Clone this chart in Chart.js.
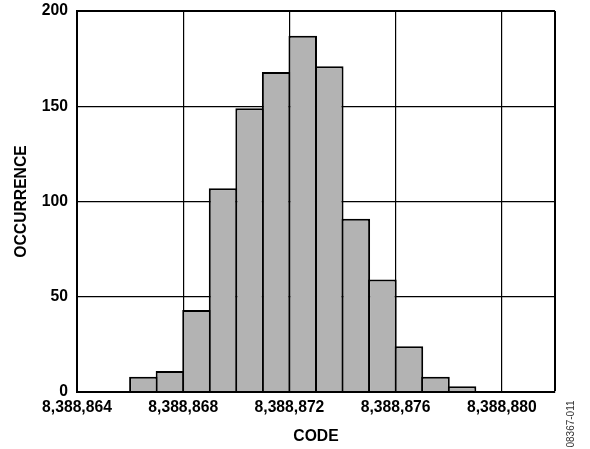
<!DOCTYPE html>
<html>
<head>
<meta charset="utf-8">
<title>Code histogram</title>
<script src="https://cdn.jsdelivr.net/npm/chart.js@4"></script>
<style>
  html, body { margin: 0; padding: 0; background: #fff; }
  #histogram { display: block; }
</style>
</head>
<body>
<canvas id="histogram" width="590" height="449"></canvas>
<script>
// Output codes (each bar spans one code) and how often each was hit
const codes = [8388866, 8388867, 8388868, 8388869, 8388870, 8388871, 8388872,
               8388873, 8388874, 8388875, 8388876, 8388877, 8388878];
const occurrences = [8, 11, 43, 107, 149, 168, 187, 171, 91, 59, 24, 8, 3];

// Axis ranges and labelled ticks
const xMin = 8388864;
const xMax = 8388882;
const xTickLabels = [8388864, 8388868, 8388872, 8388876, 8388880];
const yTicks = [0, 50, 100, 150, 200];

const FONT = '"Liberation Sans", Arial, Helvetica, sans-serif';

// small figure number on the right side
const figureTag = {
    id: 'figureTag',
    afterDraw(chart) {
        const ctx = chart.ctx;
        ctx.save();
        ctx.translate(chart.chartArea.right + 16, 424);
        ctx.rotate(-Math.PI / 2);
        ctx.font = '10px ' + FONT;
        ctx.fillStyle = '#333';
        ctx.textAlign = 'center';
        ctx.textBaseline = 'middle';
        ctx.fillText('08367-011', 0, 0);
        ctx.restore();
    }
};

window.onload = function() {
    const ctx = document.getElementById('histogram').getContext('2d');

    // bars sit between code and code + 1
    const points = codes.map((c, i) => ({ x: c + 0.5, y: occurrences[i] }));

    new Chart(ctx, {
        type: 'bar',
        data: {
            datasets: [{
                data: points,
                backgroundColor: '#b3b3b3',
                borderColor: '#000',
                borderWidth: 2,
                borderSkipped: 'bottom',
                barPercentage: 1.075, // slight overlap so neighbouring borders merge
                categoryPercentage: 1
            }]
        },
        options: {
            responsive: false,
            animation: false,
            layout: { padding: { left: 0, right: 35, top: 11, bottom: 0 } },
            plugins: {
                legend: { display: false },
                tooltip: { enabled: false }
            },
            scales: {
                x: {
                    type: 'linear',
                    offset: false,
                    min: xMin,
                    max: xMax,
                    afterFit: scale => { scale.height = 57; },
                    afterBuildTicks: scale => {
                        scale.ticks = xTickLabels.concat([xMax]).map(v => ({ value: v }));
                    },
                    ticks: {
                        maxRotation: 0,
                        autoSkip: false,
                        padding: 6,
                        color: '#000',
                        font: { family: FONT, size: 15.7, weight: 'bold' },
                        callback: value => xTickLabels.includes(value) ? value.toLocaleString('en-US') : ''
                    },
                    grid: {
                        offset: false,
                        color: '#000',
                        drawTicks: false,
                        lineWidth: c => (c.tick && c.tick.value === xMax) ? 2 : 1.2
                    },
                    border: { color: '#000', width: 2, z: 1 },
                    title: {
                        display: true,
                        text: 'CODE',
                        color: '#000',
                        font: { family: FONT, size: 15.7, weight: 'bold' },
                        padding: { top: 0, bottom: 3 }
                    }
                },
                y: {
                    min: yTicks[0],
                    max: yTicks[yTicks.length - 1],
                    afterFit: scale => {
                        scale.width = 77;
                        scale.paddingTop = 0; // let the layout padding alone set the top edge
                        scale.paddingBottom = 0;
                    },
                    ticks: {
                        stepSize: 50,
                        padding: 9,
                        color: '#000',
                        font: { family: FONT, size: 15.7, weight: 'bold' }
                    },
                    grid: {
                        color: '#000',
                        drawTicks: false,
                        lineWidth: c => (c.tick && c.tick.value === yTicks[yTicks.length - 1]) ? 2 : 1.2
                    },
                    border: { color: '#000', width: 2, z: 1 },
                    title: {
                        display: true,
                        text: 'OCCURRENCE',
                        color: '#000',
                        font: { family: FONT, size: 15.7, weight: 'bold' },
                        padding: { top: 12, bottom: 0 }
                    }
                }
            }
        },
        plugins: [figureTag]
    });
};
</script>
</body>
</html>
